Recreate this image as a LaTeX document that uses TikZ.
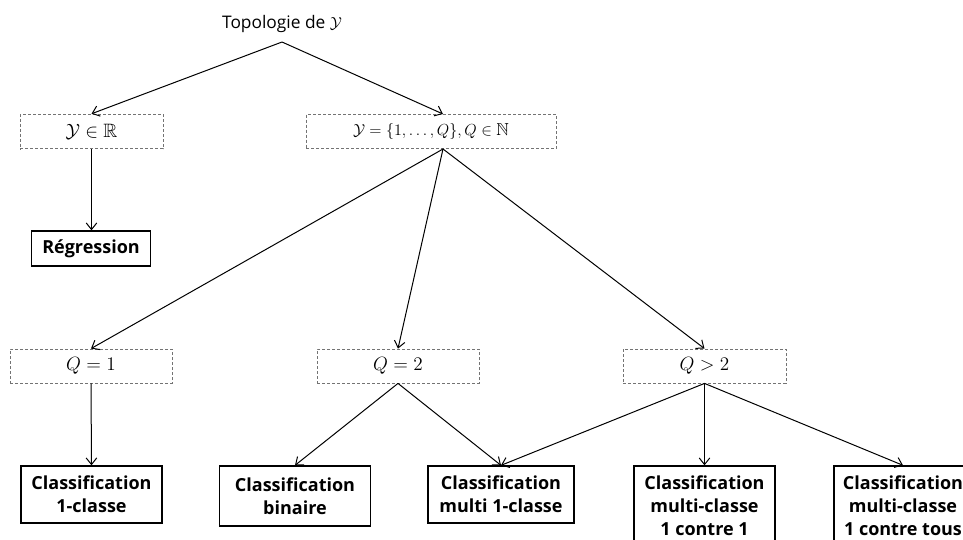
\documentclass[tikz,border=0pt]{standalone}
\usepackage[no-math]{fontspec}
\setmainfont{Open Sans}
\usepackage{amssymb}
\usetikzlibrary{arrows.meta}
\begin{document}
\begin{tikzpicture}[x=0.75pt,y=-0.75pt,
  cond/.style={draw=black!55, dash pattern=on 2.25pt off 1.5pt, line width=0.6pt,
    inner sep=0pt, minimum height=26pt, font=\fontsize{14.5}{17}\selectfont},
  leaf/.style={draw, line width=1pt, align=center, inner sep=0pt,
    font=\bfseries\fontsize{13.5}{17.25}\selectfont},
  arr/.style={-{Straight Barb[length=5pt,width=8pt]}, line width=0.75pt}]
  \useasboundingbox[clip] (0,0) rectangle (963,539);
  \fill[white] (0,0) rectangle (963,539);

  % root label
  \node[font=\fontsize{13}{15}\selectfont] (root) at (282,24) {Topologie de $\mathcal{Y}$};
  \coordinate (apex) at (282,42);

  % conditions on the output space
  \node[cond, minimum width=107.25pt] (yr) at (91.5,131.5) {$\mathcal{Y}\in\mathbb{R}$};
  \node[cond, minimum width=187.5pt, font=\fontsize{13}{16}\selectfont] (yq) at (431,131.5) {$\mathcal{Y}=\{1,\ldots,Q\},Q\in\mathbb{N}$};
  \coordinate (yqin) at (443,114);
  \coordinate (yqout) at (443,149);

  \node[leaf, minimum width=89.25pt, minimum height=26.25pt] (reg) at (91,248.5) {Régression};

  \node[cond, minimum width=121.5pt, minimum height=25.5pt] (q1) at (91,366) {$Q=1$};
  \node[cond, minimum width=121.5pt, minimum height=25.5pt] (q2) at (398,366) {$Q=2$};
  \node[cond, minimum width=122.25pt, minimum height=25.5pt] (qg) at (704.5,366) {$Q>2$};

  % leaves
  \node[leaf, minimum width=105.75pt, minimum height=42.75pt] (c1) at (91.5,494.5) {Classification\\1-classe};
  \node[leaf, minimum width=113.25pt, minimum height=45pt] (bin) at (295,496) {Classification\\binaire};
  \node[leaf, minimum width=109.5pt, minimum height=42.75pt] (m1) at (501,494.5) {Classification\\multi 1-classe};
  \node[leaf, minimum width=105.75pt, minimum height=60pt] (ovo) at (704.5,506) {Classification\\multi-classe\\1 contre 1};
  \node[leaf, minimum width=103.5pt, minimum height=60pt] (ova) at (903,506) {Classification\\multi-classe\\1 contre tous};

  % connectors
  \draw[arr] (apex) -- (yr.north);
  \draw[arr] (apex) -- (yqin);
  \draw[arr] (yr.south) -- (yr.south |- reg.north);
  \draw[arr] (yqout) -- (q1.north);
  \draw[arr] (yqout) -- (q2.north);
  \draw[arr] (yqout) -- (qg.north);
  \draw[arr] (q1.south) -- (c1.north);
  \draw[arr] (q2.south) -- (bin.north);
  \draw[arr] (q2.south) -- (m1.north);
  \draw[arr] (qg.south) -- (m1.north);
  \draw[arr] (qg.south) -- (ovo.north);
  \draw[arr] (qg.south) -- (ova.north);
\end{tikzpicture}
\end{document}
